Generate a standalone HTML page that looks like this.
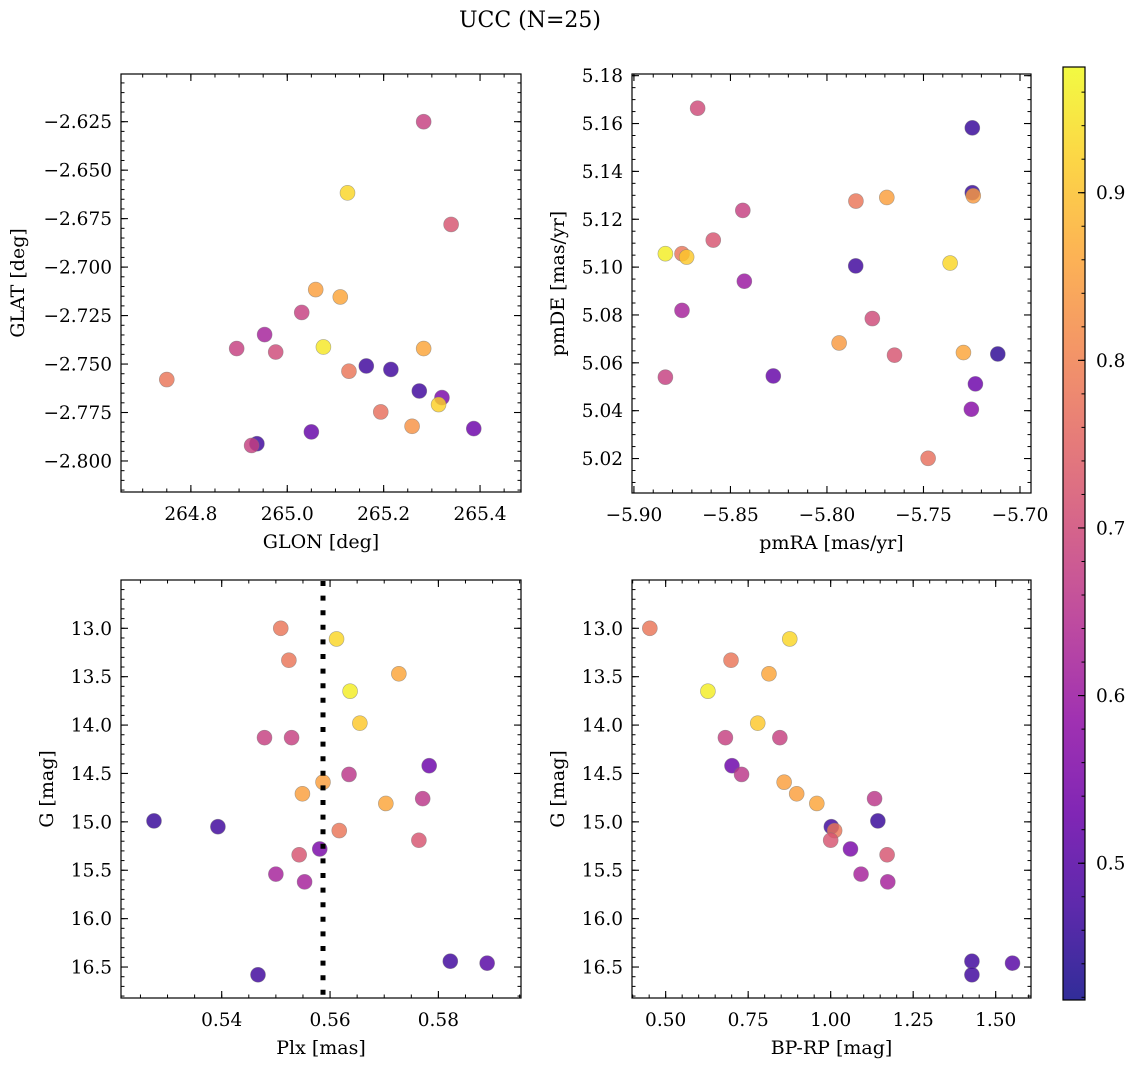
<!DOCTYPE html>
<html><head><meta charset="utf-8">
<style>
html,body{margin:0;padding:0;background:#fff;}
svg{display:block;font-family:"DejaVu Serif","Liberation Serif",serif;}
</style></head>
<body>
<svg id="fig" width="1136" height="1067" viewBox="0 0 1136 1067" xmlns="http://www.w3.org/2000/svg">
<text x="530" y="27" font-size="22" text-anchor="middle">UCC (N=25)</text>
</svg>
<script>
// ---- data ----
const glon = [265.283,265.125,265.340,265.059,265.110,265.030,264.953,264.895,264.976,265.075,265.283,265.164,265.215,265.128,264.750,265.274,265.321,265.314,265.194,265.259,265.050,265.387,264.937,264.926];
const glat = [-2.625,-2.6617,-2.678,-2.7116,-2.7154,-2.7234,-2.7348,-2.742,-2.7438,-2.7412,-2.742,-2.751,-2.7528,-2.7537,-2.758,-2.7639,-2.7673,-2.7709,-2.7747,-2.7821,-2.785,-2.7833,-2.7911,-2.792];
const probPos = [0.68,0.93,0.72,0.85,0.86,0.68,0.62,0.68,0.70,0.95,0.86,0.47,0.47,0.78,0.78,0.47,0.55,0.92,0.77,0.83,0.52,0.53,0.47,0.68];
const pmra = [-5.867,-5.7247,-5.7247,-5.7242,-5.769,-5.785,-5.8436,-5.8589,-5.8837,-5.8751,-5.8727,-5.7851,-5.7362,-5.8428,-5.8751,-5.7765,-5.7937,-5.765,-5.7293,-5.7115,-5.8837,-5.8278,-5.7231,-5.7252,-5.7476];
const pmde = [5.1664,5.1582,5.1311,5.1298,5.1291,5.1276,5.1237,5.1113,5.1056,5.1056,5.1042,5.1005,5.1017,5.0941,5.0819,5.0785,5.0683,5.0632,5.0643,5.0637,5.054,5.0545,5.0512,5.0406,5.0201];
const probPm = [0.70,0.46,0.46,0.84,0.85,0.78,0.68,0.72,0.96,0.78,0.91,0.47,0.93,0.60,0.62,0.70,0.84,0.72,0.86,0.45,0.68,0.52,0.53,0.57,0.77];
const plx = [0.5509,0.5612,0.5524,0.5727,0.5637,0.5655,0.5479,0.5529,0.5783,0.5635,0.5587,0.5549,0.5771,0.5703,0.5275,0.5393,0.5617,0.5764,0.5581,0.5543,0.5500,0.5553,0.5822,0.5890,0.5467];
const bprp = [0.452,0.876,0.698,0.813,0.628,0.779,0.681,0.846,0.701,0.730,0.859,0.897,1.133,0.958,1.143,1.002,1.012,1.000,1.060,1.171,1.092,1.173,1.428,1.551,1.428];
const gmag = [13.0,13.11,13.33,13.47,13.65,13.98,14.13,14.13,14.42,14.51,14.59,14.71,14.76,14.81,14.99,15.05,15.09,15.19,15.28,15.34,15.54,15.62,16.44,16.46,16.58];
const probCmd = [0.78,0.93,0.78,0.86,0.96,0.91,0.68,0.68,0.53,0.66,0.85,0.85,0.66,0.86,0.46,0.47,0.78,0.72,0.55,0.72,0.62,0.62,0.47,0.50,0.47];
const plxMedian = 0.5587;
const cbTicks = [0.5,0.6,0.7,0.8,0.9];
const glonTicks = [264.8,265.0,265.2,265.4];
const glatTicks = [-2.800,-2.775,-2.750,-2.725,-2.700,-2.675,-2.650,-2.625];
const pmraTicks = [-5.90,-5.85,-5.80,-5.75,-5.70];
const pmdeTicks = [5.02,5.04,5.06,5.08,5.10,5.12,5.14,5.16,5.18];
const plxTicks = [0.54,0.56,0.58];
const gTicks = [13.0,13.5,14.0,14.5,15.0,15.5,16.0,16.5];
const bprpTicks = [0.50,0.75,1.00,1.25,1.50];

const VMIN=0.4184, VMAX=0.975;
const TF=18.5, LF=19;
const plasma=[[13,8,135],[65,4,157],[106,0,168],[143,13,164],[177,42,144],[204,71,120],[225,100,98],[242,132,75],[252,166,54],[252,206,37],[240,249,33]];
function cmap(v){let t=(v-VMIN)/(VMAX-VMIN);t=Math.max(0,Math.min(1,t));const f=t*10;const i=Math.min(9,Math.floor(f));const r=f-i;const a=plasma[i],b=plasma[i+1];return `rgb(${Math.round(a[0]+(b[0]-a[0])*r)},${Math.round(a[1]+(b[1]-a[1])*r)},${Math.round(a[2]+(b[2]-a[2])*r)})`;}

const NS="http://www.w3.org/2000/svg";
const fig=document.getElementById('fig');
function mk(tag,attrs,parent){const e=document.createElementNS(NS,tag);for(const k in attrs)e.setAttribute(k,attrs[k]);(parent||fig).appendChild(e);return e;}
const fmt=(v,d)=>(v<0?'\u2212':'')+Math.abs(v).toFixed(d);

function panel(name,box,xr,yr,xt,xd,xminor,yt,yd,yminor,xlabel,ylabel,ylabX,xs,ys,cs){
  const [L,T,R,B]=box;
  const g=mk('g',{});
  
  
  const X=v=>L+(v-xr[0])/(xr[1]-xr[0])*(R-L);
  const Y=v=>B-(v-yr[0])/(yr[1]-yr[0])*(B-T);
  const xax=mk('g',{},g);
  
  
  const yax=mk('g',{},g);
  
  
  const x0=Math.ceil(Math.min(...xr)/xminor-1e-6)*xminor;
  for(let v=x0;v<=Math.max(...xr)+1e-9;v+=xminor){const p=X(v);mk('line',{x1:p,x2:p,y1:B,y2:B-3.5,stroke:'#000','stroke-width':1},xax);mk('line',{x1:p,x2:p,y1:T,y2:T+3.5,stroke:'#000','stroke-width':1},xax);}
  const y0=Math.ceil(Math.min(...yr)/yminor-1e-6)*yminor;
  for(let v=y0;v<=Math.max(...yr)+1e-9;v+=yminor){const p=Y(v);mk('line',{y1:p,y2:p,x1:L,x2:L+3.5,stroke:'#000','stroke-width':1},yax);mk('line',{y1:p,y2:p,x1:R,x2:R-3.5,stroke:'#000','stroke-width':1},yax);}
  xt.forEach(v=>{const p=X(v);mk('line',{x1:p,x2:p,y1:B,y2:B-7,stroke:'#000','stroke-width':1.1},xax);mk('line',{x1:p,x2:p,y1:T,y2:T+7,stroke:'#000','stroke-width':1.1},xax);
    const t=mk('text',{x:p,y:B+28,'font-size':TF,'text-anchor':'middle'},xax);t.textContent=fmt(v,xd);
    
    });
  yt.forEach(v=>{const p=Y(v);mk('line',{y1:p,y2:p,x1:L,x2:L+7,stroke:'#000','stroke-width':1.1},yax);mk('line',{y1:p,y2:p,x1:R,x2:R-7,stroke:'#000','stroke-width':1.1},yax);
    const t=mk('text',{x:L-9,y:p+6.5,'font-size':TF,'text-anchor':'end'},yax);t.textContent=fmt(v,yd);
    
    });
  const xl=mk('text',{x:(L+R)/2,y:B+56,'font-size':LF,'text-anchor':'middle'},g);xl.textContent=xlabel;
  
  
  const yl=mk('text',{x:ylabX,y:(T+B)/2,'font-size':LF,'text-anchor':'middle',transform:`rotate(-90 ${ylabX} ${(T+B)/2})`},g);yl.textContent=ylabel;
  
  
  const pts=mk('g',{},g);
  
  
  xs.forEach((v,i)=>{const c=mk('circle',{cx:X(v),cy:Y(ys[i]),r:7.5,fill:cmap(cs[i]),'fill-opacity':0.82,stroke:'#777','stroke-opacity':0.6,'stroke-width':0.6},pts);
    
    });
  const fr=mk('rect',{x:L,y:T,width:R-L,height:B-T,fill:'none',stroke:'#000','stroke-width':1.2},g);
  
  
  return {X,Y,g};
}

panel('glon-glat-panel',[121,74,521,492],[264.655,265.485],[-2.816,-2.6004],glonTicks,1,0.05,glatTicks,3,0.005,'GLON [deg]','GLAT [deg]',24,glon,glat,probPos);
panel('pm-panel',[632,74,1031,493],[-5.901,-5.6943],[5.0056,5.1807],pmraTicks,2,0.01,pmdeTicks,2,0.005,'pmRA [mas/yr]','pmDE [mas/yr]',564,pmra,pmde,probPm);
const pc=panel('plx-g-panel',[121,580,521,998],[0.52141,0.59525],[16.82,12.501],plxTicks,2,0.005,gTicks,1,0.1,'Plx [mas]','G [mag]',53,plx,gmag,probCmd);
panel('cmd-panel',[632,580,1031,998],[0.398,1.607],[16.82,12.501],bprpTicks,2,0.05,gTicks,1,0.1,'BP-RP [mag]','G [mag]',564,bprp,gmag,probCmd);

const ml=mk('line',{x1:pc.X(plxMedian),x2:pc.X(plxMedian),y1:581,y2:998,stroke:'#000','stroke-width':5,'stroke-dasharray':'5 9.6'});



const CL=1063,CR=1085,CT=67,CB=1000;
const defs=mk('defs',{});
const lg=mk('linearGradient',{id:'cbg',x1:0,y1:1,x2:0,y2:0},defs);
for(let k=0;k<=20;k++){const v=VMIN+(VMAX-VMIN)*k/20;mk('stop',{offset:k/20,'stop-color':cmap(v),'stop-opacity':0.85},lg);}
const cb=mk('g',{});


mk('rect',{x:CL,y:CT,width:CR-CL,height:CB-CT,fill:'url(#cbg)'},cb);
const CY=v=>CB-(v-VMIN)/(VMAX-VMIN)*(CB-CT);
for(let v=0.42;v<VMAX;v+=0.02){const p=CY(v);mk('line',{x1:CR,x2:CR-3.5,y1:p,y2:p,stroke:'#000','stroke-width':1},cb);}
cbTicks.forEach(v=>{const p=CY(v);mk('line',{x1:CR,x2:CR-7,y1:p,y2:p,stroke:'#000','stroke-width':1.1},cb);
  const t=mk('text',{x:CR+11,y:p+6.5,'font-size':TF},cb);t.textContent=v.toFixed(1);
  
  });
mk('rect',{x:CL,y:CT,width:CR-CL,height:CB-CT,fill:'none',stroke:'#000','stroke-width':1.2},cb);
</script>
</body></html>
